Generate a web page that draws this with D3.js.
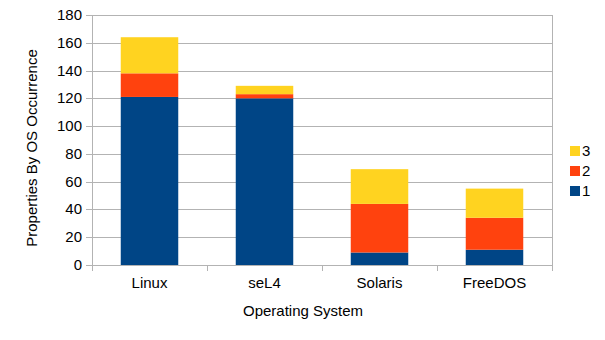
<!DOCTYPE html>
<html>
<head>
<meta charset="utf-8">
<title>Properties By OS Occurrence</title>
<style>
  body { margin: 0; background: #fff; }
  text { font-family: "Liberation Sans", Arial, sans-serif; fill: #000; }
</style>
</head>
<body>
<script src="https://cdn.jsdelivr.net/npm/d3@7"></script>
<script>
var categories = ["Linux", "seL4", "Solaris", "FreeDOS"];
var seriesNames = ["1", "2", "3"];
var series1 = [121, 120, 9, 11];
var series2 = [17, 3, 35, 23];
var series3 = [26, 6, 25, 21];
var yTicks = [0, 20, 40, 60, 80, 100, 120, 140, 160, 180];
var colors = ["#004586", "#ff420e", "#ffd320"];

var width = 605, height = 340;
var plotLeft = 92, plotRight = 552, plotTop = 15, plotBottom = 265;

var svg = d3.select("body").append("svg")
    .attr("width", width)
    .attr("height", height);

// rows for the stack
var rows = categories.map(function(c, i) {
    return {cat: c, "1": series1[i], "2": series2[i], "3": series3[i]};
});
var stacked = d3.stack().keys(seriesNames)(rows);

var x = d3.scaleBand().domain(categories).range([plotLeft, plotRight]);
var y = d3.scaleLinear().domain([0, 180]).range([plotBottom, plotTop]);

// gridlines
svg.append("g").selectAll("line")
    .data(yTicks)
    .enter().append("line")
    .attr("x1", plotLeft - 6).attr("x2", plotRight)
    .attr("y1", d => Math.round(y(d)) + 0.5).attr("y2", d => Math.round(y(d)) + 0.5)
    .attr("stroke", "#b3b3b3").attr("stroke-width", 1);

// plot border lines left/right
svg.append("line")
    .attr("x1", plotRight + 0.5).attr("x2", plotRight + 0.5)
    .attr("y1", plotTop).attr("y2", plotBottom + 6)
    .attr("stroke", "#b3b3b3");
svg.append("line")
    .attr("x1", plotLeft + 0.5).attr("x2", plotLeft + 0.5)
    .attr("y1", plotTop).attr("y2", plotBottom + 6)
    .attr("stroke", "#b3b3b3");

// category tick marks
var bounds = categories.slice(1).map(c => x(c));
svg.append("g").selectAll("line")
    .data(bounds)
    .enter().append("line")
    .attr("x1", d => Math.round(d) + 0.5).attr("x2", d => Math.round(d) + 0.5)
    .attr("y1", plotBottom).attr("y2", plotBottom + 6)
    .attr("stroke", "#b3b3b3");

// bars
var barW = x.bandwidth() * 0.5;
svg.append("g").selectAll("g")
    .data(stacked)
    .enter().append("g")
    .attr("fill", (d, i) => colors[i])
    .selectAll("rect")
    .data(d => d)
    .enter().append("rect")
    .attr("x", d => x(d.data.cat) + (x.bandwidth() - barW) / 2)
    .attr("y", d => y(d[1]))
    .attr("width", barW)
    .attr("height", d => y(d[0]) - y(d[1]));

// y tick labels
svg.append("g").selectAll("text")
    .data(yTicks)
    .enter().append("text")
    .attr("x", 82)
    .attr("y", d => y(d) + 5)
    .attr("text-anchor", "end")
    .attr("font-size", 15)
    .text(d => d);

// x tick labels
svg.append("g").selectAll("text")
    .data(categories)
    .enter().append("text")
    .attr("x", d => x(d) + x.bandwidth() / 2)
    .attr("y", 288)
    .attr("text-anchor", "middle")
    .attr("font-size", 15)
    .text(d => d);

// axis titles
svg.append("text")
    .attr("x", 303).attr("y", 316)
    .attr("text-anchor", "middle")
    .attr("font-size", 15)
    .text("Operating System");
svg.append("text")
    .attr("transform", "translate(37,148) rotate(-90)")
    .attr("text-anchor", "middle")
    .attr("font-size", 15)
    .text("Properties By OS Occurrence");

// legend (3 on top)
var legend = svg.append("g").selectAll("g")
    .data(seriesNames.slice().reverse())
    .enter().append("g")
    .attr("transform", (d, i) => "translate(570," + (146 + i * 20) + ")");
legend.append("rect")
    .attr("width", 10).attr("height", 10)
    .attr("fill", d => colors[seriesNames.indexOf(d)]);
legend.append("text")
    .attr("x", 12).attr("y", 10)
    .attr("font-size", 15)
    .text(d => d);
</script>
</body>
</html>
